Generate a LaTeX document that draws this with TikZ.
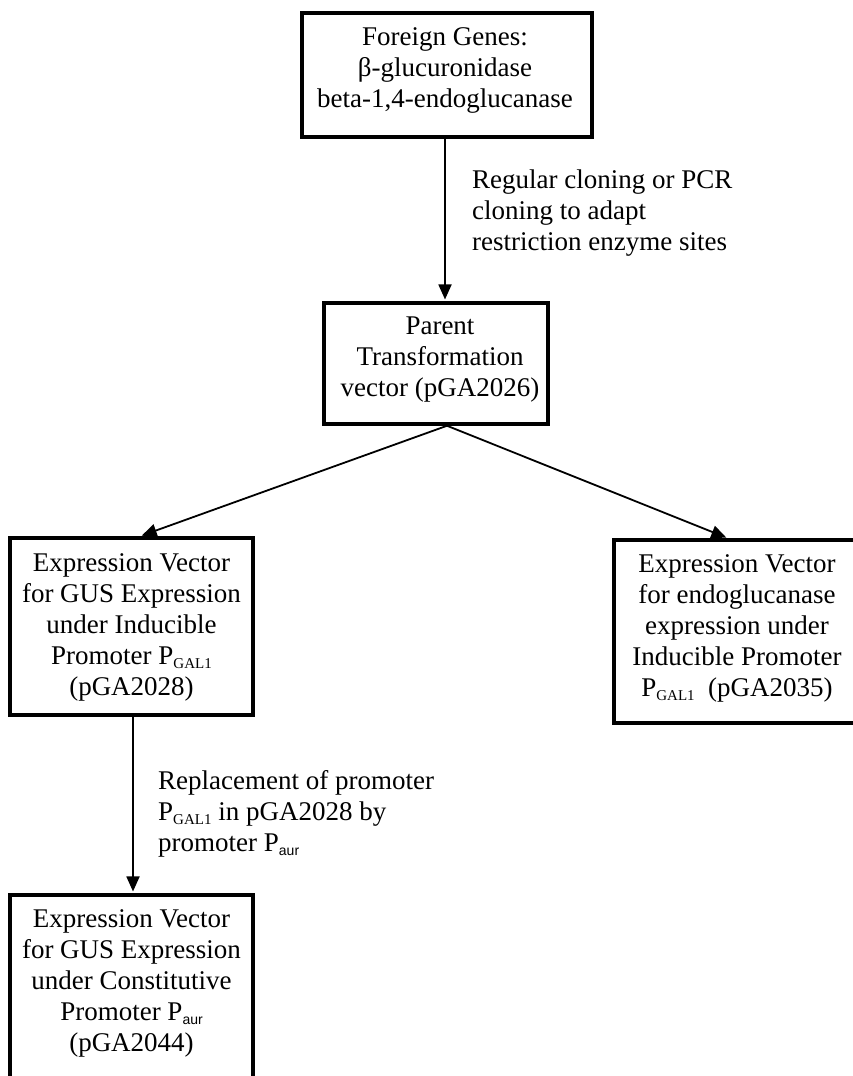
\documentclass[tikz,border=0pt]{standalone}
\usepackage{fontspec}
\setmainfont{Liberation Serif}
\newfontfamily\subsans{Liberation Sans}
\usetikzlibrary{arrows.meta}
% promoter names with lowered subscripts
\newcommand{\pgal}{P\raisebox{-0.35ex}{\fontsize{15}{15}\selectfont GAL1}}
\newcommand{\paur}{P\raisebox{-0.35ex}{\subsans\fontsize{14}{14}\selectfont aur}}
\begin{document}
\begin{tikzpicture}[x=1pt,y=-1pt,
  box/.style={draw, line width=3.5pt, align=center, inner sep=0pt,
    font=\fontsize{27}{31}\selectfont},
  txt/.style={align=center, inner sep=0pt, font=\fontsize{27}{31}\selectfont},
  flow/.style={line width=1.8pt, shorten >=1.8pt,
    -{Triangle[length=15pt,width=13pt]}},
  note/.style={align=left, anchor=north west, inner sep=0pt,
    font=\fontsize{27}{31}\selectfont}]
\useasboundingbox (0,0) rectangle (852,1076);

% boxes
\node[box, minimum width=290pt, minimum height=124pt] (genes) at (447,75) {};
\node[txt] (genestext) at (445,70)
  {Foreign Genes:\\ β-glucuronidase\\ beta-1,4-endoglucanase};
\node[box, minimum width=224pt, minimum height=121pt] (parent) at (436,363.5) {};
\node[txt] (parenttext) at (440,360)
  {Parent\\ Transformation\\ vector (pGA2026)};
\node[box, minimum width=243pt, minimum height=177pt] (gus) at (131.5,626.5) {};
\node[txt] (gustext) at (131.5,627.5)
  {Expression Vector\\ for GUS Expression\\ under Inducible\\ Promoter \pgal\\ (pGA2028)};
\node[box, minimum width=246pt, minimum height=183pt] (endo) at (737,631.5) {};
\node[txt] (endotext) at (737,628.5)
  {Expression Vector\\ for endoglucanase\\ expression under\\ Inducible Promoter\\ \pgal\ \ (pGA2035)};
\node[box, minimum width=243pt, minimum height=205pt] (const) at (131.5,997.5) {};
\node[txt] (consttext) at (131.5,983)
  {Expression Vector\\ for GUS Expression\\ under Constitutive\\ Promoter \paur\\ (pGA2044)};

% connector columns
\coordinate (c1) at (445,0);
\coordinate (c2) at (447,0);
\coordinate (c3) at (140,0);
\coordinate (c4) at (728,0);
\coordinate (c5) at (133,0);

\draw[flow] (genes.south -| c1) -- (parent.north -| c1);
\draw[flow] (parent.south -| c2) -- (gus.north -| c3);
\draw[flow] (parent.south -| c2) -- (endo.north -| c4);
\draw[flow] (gus.south -| c5) -- (const.north -| c5);

% step descriptions
\node[note] (step1) at (472,170)
  {Regular cloning or PCR\\ cloning to adapt\\ restriction enzyme sites};
\node[note] (step2) at (158,770)
  {Replacement of promoter\\ \pgal\ in pGA2028 by\\ promoter \paur};
\end{tikzpicture}
\end{document}
